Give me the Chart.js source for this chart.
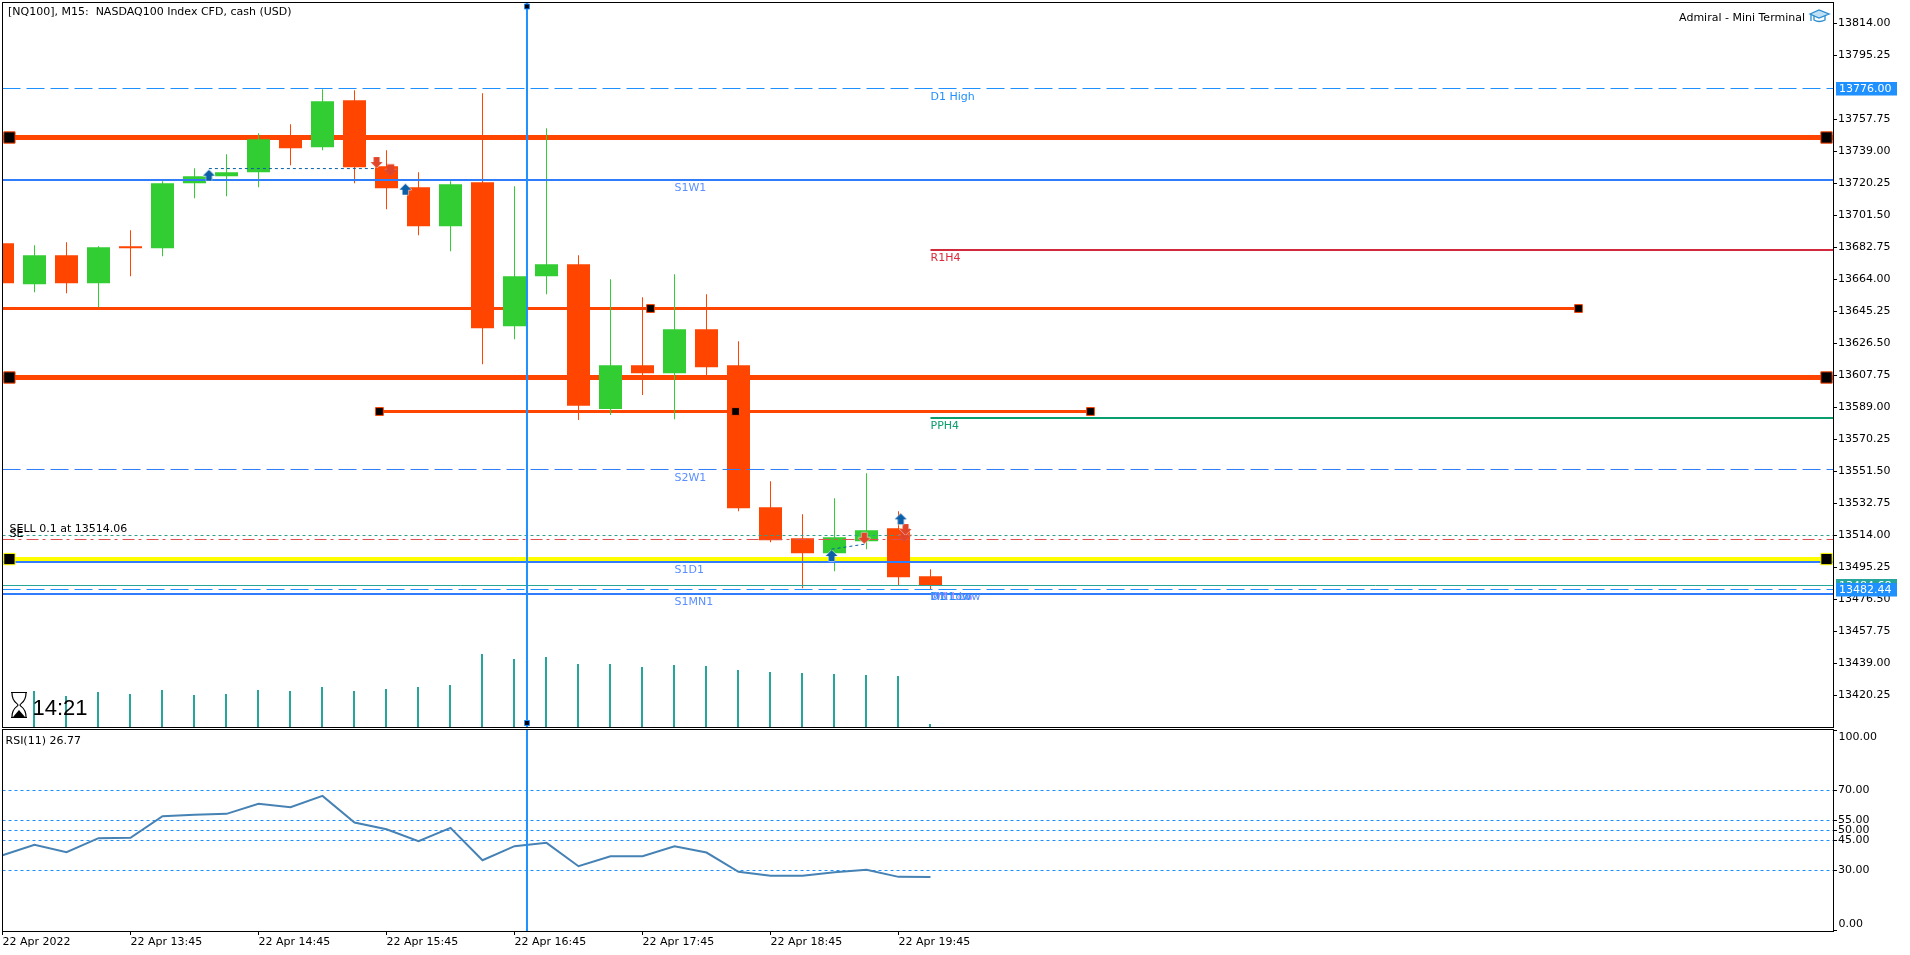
<!DOCTYPE html>
<html>
<head>
<meta charset="utf-8">
<title>NQ100 M15</title>
<script src="https://cdn.jsdelivr.net/npm/chart.js@4/dist/chart.umd.min.js"></script>
<style>
    html, body { margin: 0; padding: 0; background: #fff; overflow: hidden; }
    canvas { position: absolute; left: 0; }
    #priceChart { top: 0; }
    #rsiChart { top: 728px; }
</style>
</head>
<body>
<canvas id="priceChart" width="1910" height="728"></canvas>
<canvas id="rsiChart" width="1910" height="227"></canvas>
<script>
// Candles, oldest first
const candleOpen = [13685.27, 13661.25, 13678.24, 13661.83, 13683.51, 13682.34, 13720.43, 13724.53, 13726.87, 13746.21,
    13741.52, 13769.06, 13730.39, 13718.08, 13695.23, 13721.01, 13636.64, 13665.93, 13672.96, 13588.10,
    13613.78, 13609.10, 13634.88, 13613.78, 13530.58, 13512.41, 13503.62, 13510.65, 13518.27, 13490.15];
const candleHigh = [13690.00, 13684.10, 13685.86, 13683.51, 13692.89, 13721.60, 13729.21, 13737.42, 13749.72, 13754.99,
    13775.50, 13774.92, 13739.76, 13726.87, 13721.60, 13773.16, 13718.67, 13752.65, 13678.24, 13664.18,
    13653.63, 13667.10, 13655.39, 13627.85, 13545.81, 13526.47, 13535.85, 13550.50, 13528.23, 13494.25];
const candleLow = [13656.00, 13656.56, 13655.97, 13647.77, 13665.93, 13677.65, 13711.64, 13712.81, 13718.08, 13730.97,
    13739.76, 13720.43, 13705.19, 13689.96, 13680.58, 13614.37, 13629.02, 13655.39, 13581.70, 13584.60,
    13596.30, 13582.14, 13607.93, 13528.23, 13510.07, 13483.12, 13493.08, 13505.97, 13484.68, 13482.53];
const candleClose = [13661.83, 13678.24, 13661.83, 13682.93, 13682.34, 13720.43, 13724.53, 13726.87, 13746.21, 13740.93,
    13768.47, 13729.80, 13717.49, 13695.23, 13719.84, 13635.46, 13665.93, 13672.96, 13590.05, 13613.78,
    13609.10, 13634.88, 13612.61, 13529.99, 13511.24, 13503.62, 13513.00, 13517.10, 13489.56, 13484.68];
const volumes = [3500, 3600, 3100, 3500, 3300, 3700, 3200, 3300, 3700, 3600,
    4000, 3600, 3800, 4000, 4200, 7300, 6800, 7000, 6300, 6300,
    6000, 6200, 6100, 5700, 5500, 5400, 5300, 5200, 5100, 300];
const rsiValues = [37.65, 42.82, 39.15, 46.15, 46.32, 57.15, 57.82, 58.32, 63.32, 61.65,
    67.32, 53.98, 50.65, 44.65, 51.32, 35.15, 42.15, 43.82, 32.15, 37.15,
    37.15, 42.15, 38.98, 29.32, 27.32, 27.32, 29.15, 30.32, 26.82, 26.77];

// Axis ticks
const priceTicks = [13814, 13795.25, 13757.75, 13739, 13720.25, 13701.5, 13682.75, 13664, 13645.25, 13626.5, 13607.75,
    13589, 13570.25, 13551.5, 13532.75, 13514, 13495.25, 13476.5, 13457.75, 13439, 13420.25];
const rsiTicks = [100, 70, 55, 50, 45, 30, 0];
const rsiLevels = [70, 55, 50, 45, 30];
const timeTicks = [0, 4, 8, 12, 16, 20, 24, 28];
const timeLabels = ['22 Apr 2022', '22 Apr 13:45', '22 Apr 14:45', '22 Apr 15:45', '22 Apr 16:45', '22 Apr 17:45', '22 Apr 18:45', '22 Apr 19:45'];

// Price levels
const thickLevels = [13747.2, 13606.57];
const yellowLevel = 13500.2;
const trendLevelA = 13647.0;
const trendLevelB = 13586.66;
const d1High = 13775.91;
const d1Low = 13482.35;
const s1w1 = 13722.3;
const s2w1 = 13552.67;
const s1d1 = 13498.47;
const s1mn1 = 13479.72;
const r1h4 = 13681.28;
const pph4 = 13582.85;
const sellLevel = 13514.0;
const redLevel = 13511.66;
const bidLevel = 13484.7;

// Trades: x in candle index units
const buyX = [6.45, 12.59, 25.91, 28.07];
const buyY = [13725.11, 13716.90, 13502.26, 13523.74];
const sellX = [11.69, 26.93, 28.22];
const sellY = [13732.53, 13512.41, 13517.49];
const closeX = [12.13, 28.18];
const closeY = [13728.04, 13513.78];

// Objects on the chart, x in candle index units
const cursorX = 16.39;
const levelStartX = 29;
const trendAMidX = 20.25;
const trendAEndX = 49.25;
const trendBStartX = 11.78;
const trendBMidX = 22.91;
const trendBEndX = 34;
const handleLeftX = 0.216;
const handleRightX = 57;
const cursorHandleTop = 13823.96;
const cursorHandleBottom = 13404.14;
const tradeLinkA = { x: [6.45, 11.65], y: [13729, 13729] };
const tradeLinkB = { x: [25.91, 26.93], y: [13505.97, 13508.9] };

// Layout
const PLOT_LEFT = 2.5;
const PLOT_RIGHT = 1833;
const AXIS_WIDTH = 77;
const X_MAX = (PLOT_RIGHT - PLOT_LEFT) / 32;
const VOLUME_SHIFT = 0.5 / 32;
const FONT = '"DejaVu Sans"';
const FONT_SIZE = 11;

const ORANGE = '#ff4500';
const GREEN = '#32cd32';
const DODGER = '#1e90ff';
const LEVEL_BLUE = '#2f7dfa';
const LABEL_BLUE = '#5b8fff';
const TEAL = '#26a69a';

const candleIndex = candleOpen.map((_, i) => i);
const candleColors = candleIndex.map(i => candleClose[i] >= candleOpen[i] ? GREEN : ORANGE);

// Line helpers
const segment = (x0, x1, y0, y1, color, width, dash, order) => ({
    type: 'line',
    data: [{ x: x0, y: y0 }, { x: x1, y: y1 }],
    borderColor: color,
    borderWidth: width,
    borderDash: dash || [],
    pointRadius: 0,
    order: order
});

const level = (value, color, width, dash, order, startX) =>
    segment(startX === undefined ? 0 : startX, X_MAX, value, value, color, width, dash, order);

const handles = (points, color, radius) => ({
    type: 'line',
    showLine: false,
    data: points,
    pointStyle: 'rect',
    pointRadius: radius,
    pointBackgroundColor: '#000',
    pointBorderColor: color,
    pointBorderWidth: 1,
    order: 1
});

// Trade arrows
const makeArrow = (color, up, outlined) => {
    const c = document.createElement('canvas');
    c.width = 19;
    c.height = 19;
    const g = c.getContext('2d');
    g.translate(9.5, 9.5);
    if (!up) g.scale(1, -1);
    g.beginPath();
    g.moveTo(0, -5.5);
    g.lineTo(6, 0.5);
    g.lineTo(3, 0.5);
    g.lineTo(3, 5.5);
    g.lineTo(-3, 5.5);
    g.lineTo(-3, 0.5);
    g.lineTo(-6, 0.5);
    g.closePath();
    g.fillStyle = color;
    g.strokeStyle = '#fff';
    g.lineWidth = 1;
    g.stroke();
    g.fill();
    if (outlined) {
        g.scale(1.25, 1.25);
        g.strokeStyle = color;
        g.stroke();
    }
    return c;
};

const arrows = (xs, ys, image) => ({
    type: 'line',
    showLine: false,
    data: xs.map((x, i) => ({ x: x, y: ys[i] })),
    pointStyle: image,
    order: 1
});

// Text helper
const drawText = (ctx, text, x, y, color, size, align, family) => {
    ctx.font = (size || FONT_SIZE) + 'px ' + (family || FONT);
    ctx.fillStyle = color || '#000';
    ctx.textAlign = align || 'left';
    ctx.textBaseline = 'middle';
    ctx.fillText(text, x, y);
};

const drawHourglass = (ctx) => {
    ctx.save();
    ctx.strokeStyle = '#000';
    ctx.lineWidth = 1.2;
    ctx.beginPath();
    ctx.moveTo(11, 692.5);
    ctx.lineTo(27, 692.5);
    ctx.moveTo(11, 717.5);
    ctx.lineTo(27, 717.5);
    ctx.moveTo(12, 693);
    ctx.bezierCurveTo(12, 703, 18, 703, 18, 705);
    ctx.bezierCurveTo(18, 707, 12, 707, 12, 717);
    ctx.moveTo(26, 693);
    ctx.bezierCurveTo(26, 703, 20, 703, 20, 705);
    ctx.bezierCurveTo(20, 707, 26, 707, 26, 717);
    ctx.stroke();
    ctx.fillStyle = '#000';
    ctx.beginPath();
    ctx.moveTo(13, 717);
    ctx.lineTo(25, 717);
    ctx.lineTo(19, 710);
    ctx.closePath();
    ctx.fill();
    ctx.restore();
};

const drawCap = (ctx) => {
    ctx.save();
    ctx.strokeStyle = '#2a8cd0';
    ctx.fillStyle = '#bfe0f5';
    ctx.lineWidth = 1.3;
    ctx.beginPath();
    ctx.moveTo(1810, 14);
    ctx.lineTo(1819, 10);
    ctx.lineTo(1829, 14);
    ctx.lineTo(1819, 18);
    ctx.closePath();
    ctx.fill();
    ctx.stroke();
    ctx.beginPath();
    ctx.moveTo(1814, 16);
    ctx.lineTo(1814, 20);
    ctx.quadraticCurveTo(1819, 23, 1825, 20);
    ctx.lineTo(1825, 16);
    ctx.moveTo(1811, 14);
    ctx.lineTo(1811, 21);
    ctx.stroke();
    ctx.restore();
};

const axisBox = (ctx, text, y, color) => {
    ctx.fillStyle = color;
    ctx.fillRect(1836, y - 6.5, 61, 13.5);
    drawText(ctx, text, 1839, y + 0.5, '#fff');
};

// Everything text-like on the price panel
const priceOverlay = {
    id: 'priceOverlay',
    afterDraw(chart) {
        const { ctx, scales } = chart;
        const yOf = v => scales.y.getPixelForValue(v);
        const xOf = i => scales.x.getPixelForValue(i);

        ctx.save();
        ctx.strokeStyle = '#000';
        ctx.lineWidth = 1;
        ctx.strokeRect(2.5, 2.5, 1831, 725);

        drawText(ctx, '[NQ100], M15:  NASDAQ100 Index CFD, cash (USD)', 8, 12);
        drawText(ctx, 'Admiral - Mini Terminal', 1805, 18, '#000', FONT_SIZE, 'right');
        drawCap(ctx);

        drawText(ctx, 'D1 High', xOf(levelStartX), yOf(d1High) + 8.5, DODGER);
        drawText(ctx, 'S1W1', xOf(21), yOf(s1w1) + 8.5, LABEL_BLUE);
        drawText(ctx, 'R1H4', xOf(levelStartX), yOf(r1h4) + 8.5, '#dc2a3c');
        drawText(ctx, 'PPH4', xOf(levelStartX), yOf(pph4) + 8.5, '#0a9e6e');
        drawText(ctx, 'S2W1', xOf(21), yOf(s2w1) + 8.5, LABEL_BLUE);
        drawText(ctx, 'S1D1', xOf(21), yOf(s1d1) + 8.5, LABEL_BLUE);
        drawText(ctx, 'S1MN1', xOf(21), yOf(s1mn1) + 8.5, LABEL_BLUE);
        drawText(ctx, 'W1 Low', xOf(levelStartX), yOf(d1Low) + 8, '#c08cff');
        drawText(ctx, 'MN1 Low', xOf(levelStartX), yOf(d1Low) + 8, LABEL_BLUE);
        drawText(ctx, 'D1 Low', xOf(levelStartX), yOf(d1Low) + 8, DODGER);

        drawText(ctx, 'SELL 0.1 at 13514.06', 9.5, 529);
        drawText(ctx, 'SE', 9.5, 534.5);

        drawHourglass(ctx);
        drawText(ctx, '14:21', 32.5, 709, '#000', 22, 'left', '"Liberation Sans"');

        axisBox(ctx, '13776.00', yOf(d1High), DODGER);
        axisBox(ctx, '13484.68', yOf(bidLevel), TEAL);
        axisBox(ctx, '13482.44', yOf(d1Low), DODGER);
        ctx.restore();
    }
};

const rsiOverlay = {
    id: 'rsiOverlay',
    afterDraw(chart) {
        const { ctx, scales } = chart;
        ctx.save();
        ctx.strokeStyle = '#000';
        ctx.lineWidth = 1;
        ctx.strokeRect(2.5, 1.5, 1831, 202);
        drawText(ctx, 'RSI(11) 26.77', 5.5, 13);
        drawText(ctx, '100.00', 1838.5, scales.y.getPixelForValue(100) + 7);
        drawText(ctx, '0.00', 1838.5, scales.y.getPixelForValue(0) - 6);
        ctx.restore();
    }
};

const axisFont = { family: FONT, size: FONT_SIZE };

// Fixed axis boxes, label overhang must not shrink the plot area
const fitRightAxis = scale => {
    scale.width = AXIS_WIDTH;
    scale.paddingTop = 0;
    scale.paddingBottom = 0;
};
const fitTimeAxis = scale => {
    scale.height = 24;
    scale.paddingLeft = 0;
    scale.paddingRight = 0;
};

// Price panel
new Chart(document.getElementById('priceChart'), {
    type: 'bar',
    data: {
        datasets: [
            ...thickLevels.map(v => level(v, ORANGE, 5, [], 10)),
            level(yellowLevel, '#ffff00', 4, [], 10),
            segment(0, trendAEndX, trendLevelA, trendLevelA, ORANGE, 3, [], 10),
            segment(trendBStartX, trendBEndX, trendLevelB, trendLevelB, ORANGE, 3, [], 10),
            {
                data: candleIndex.map(i => ({ x: i - VOLUME_SHIFT, y: volumes[i] })),
                yAxisID: 'volume',
                backgroundColor: TEAL,
                barThickness: 2,
                grouped: false,
                inflateAmount: 0,
                order: 8
            },
            {
                data: candleIndex.map(i => ({ x: i, y: [candleLow[i], candleHigh[i]] })),
                yAxisID: 'y',
                backgroundColor: candleColors,
                barThickness: 1,
                grouped: false,
                inflateAmount: 0,
                order: 6
            },
            {
                data: candleIndex.map(i => ({ x: i, y: [candleOpen[i], candleClose[i]] })),
                yAxisID: 'y',
                backgroundColor: candleColors,
                barThickness: 23,
                grouped: false,
                inflateAmount: 0,
                order: 5
            },
            level(d1High, DODGER, 1, [18, 6], 3),
            level(d1Low, DODGER, 1, [18, 6], 3),
            level(s2w1, LEVEL_BLUE, 1, [18, 6], 3),
            level(s1w1, LEVEL_BLUE, 2, [], 3),
            level(s1d1, LEVEL_BLUE, 2, [], 3),
            level(s1mn1, LEVEL_BLUE, 2, [], 3),
            level(r1h4, '#d22a3c', 2, [], 3, levelStartX),
            level(pph4, '#0a9e6e', 2, [], 3, levelStartX),
            level(sellLevel, '#2e9e8e', 1, [3, 3], 3),
            level(redLevel, '#e05050', 1, [12, 4, 3, 5], 3),
            level(bidLevel, TEAL, 1, [], 3),
            segment(tradeLinkA.x[0], tradeLinkA.x[1], tradeLinkA.y[0], tradeLinkA.y[1], '#0a5fa8', 1, [3, 3], 2),
            segment(tradeLinkB.x[0], tradeLinkB.x[1], tradeLinkB.y[0], tradeLinkB.y[1], '#0a5fa8', 1, [3, 3], 2),
            segment(cursorX, cursorX, cursorHandleBottom - 10, cursorHandleTop + 10, DODGER, 2, [], 2),
            handles([
                ...thickLevels.flatMap(v => [{ x: handleLeftX, y: v }, { x: handleRightX, y: v }])
            ], ORANGE, 8),
            handles([{ x: handleLeftX, y: yellowLevel }, { x: handleRightX, y: yellowLevel }], '#ffff00', 8),
            handles([
                { x: trendAMidX, y: trendLevelA }, { x: trendAEndX, y: trendLevelA },
                { x: trendBStartX, y: trendLevelB }, { x: trendBMidX, y: trendLevelB }, { x: trendBEndX, y: trendLevelB }
            ], ORANGE, 5.5),
            handles([{ x: cursorX, y: cursorHandleTop }, { x: cursorX, y: cursorHandleBottom }], DODGER, 3.5),
            arrows(buyX, buyY, makeArrow('#0a5fa8', true, false)),
            arrows(sellX, sellY, makeArrow('#e0452a', false, false)),
            arrows(closeX, closeY, makeArrow('#e0452a', false, true))
        ]
    },
    options: {
        responsive: false,
        devicePixelRatio: 1,
        animation: false,
        layout: { autoPadding: false, padding: { left: PLOT_LEFT, top: 3, bottom: 1, right: 0 } },
        plugins: { legend: { display: false }, tooltip: { enabled: false } },
        scales: {
            y: {
                position: 'right',
                min: 13401.79,
                max: 13826.01,
                afterFit: fitRightAxis,
                afterBuildTicks: scale => { scale.ticks = priceTicks.map(value => ({ value })); },
                border: { display: false },
                grid: { drawOnChartArea: false, drawTicks: true, tickLength: 4, color: '#000' },
                ticks: {
                    autoSkip: false,
                    color: '#000',
                    font: axisFont,
                    padding: 1,
                    callback: value => value.toFixed(2)
                }
            },
            x: { type: 'linear', display: false, min: 0, max: X_MAX, offset: false },
            volume: { display: false, min: 0, max: 72400 }
        }
    },
    plugins: [priceOverlay]
});

// RSI panel
new Chart(document.getElementById('rsiChart'), {
    type: 'line',
    data: {
        datasets: [
            ...rsiLevels.map(v => level(v, DODGER, 1, [3, 3], 5)),
            {
                data: candleIndex.map(i => ({ x: i, y: rsiValues[i] })),
                borderColor: '#4682b4',
                borderWidth: 2,
                pointRadius: 0,
                tension: 0,
                order: 2
            },
            segment(cursorX, cursorX, -1, 101, DODGER, 2, [], 1)
        ]
    },
    options: {
        responsive: false,
        devicePixelRatio: 1,
        animation: false,
        layout: { autoPadding: false, padding: { left: PLOT_LEFT, top: 2, bottom: 0, right: 0 } },
        plugins: { legend: { display: false }, tooltip: { enabled: false } },
        scales: {
            x: {
                type: 'linear',
                min: 0,
                max: X_MAX,
                afterFit: fitTimeAxis,
                afterBuildTicks: scale => { scale.ticks = timeTicks.map(value => ({ value })); },
                border: { display: false },
                grid: { drawOnChartArea: false, drawTicks: true, tickLength: 4, color: '#000' },
                ticks: {
                    autoSkip: false,
                    maxRotation: 0,
                    minRotation: 0,
                    align: 'start',
                    color: '#000',
                    font: axisFont,
                    padding: 1,
                    callback: (value, index) => timeLabels[index]
                }
            },
            y: {
                position: 'right',
                min: -0.25,
                max: 100.25,
                afterFit: fitRightAxis,
                afterBuildTicks: scale => { scale.ticks = rsiTicks.map(value => ({ value })); },
                border: { display: false },
                grid: { drawOnChartArea: false, drawTicks: true, tickLength: 4, color: '#000' },
                ticks: {
                    autoSkip: false,
                    color: '#000',
                    font: axisFont,
                    padding: 1,
                    callback: value => (value === 100 || value === 0) ? '' : value.toFixed(2)
                }
            }
        }
    },
    plugins: [rsiOverlay]
});
</script>
</body>
</html>
